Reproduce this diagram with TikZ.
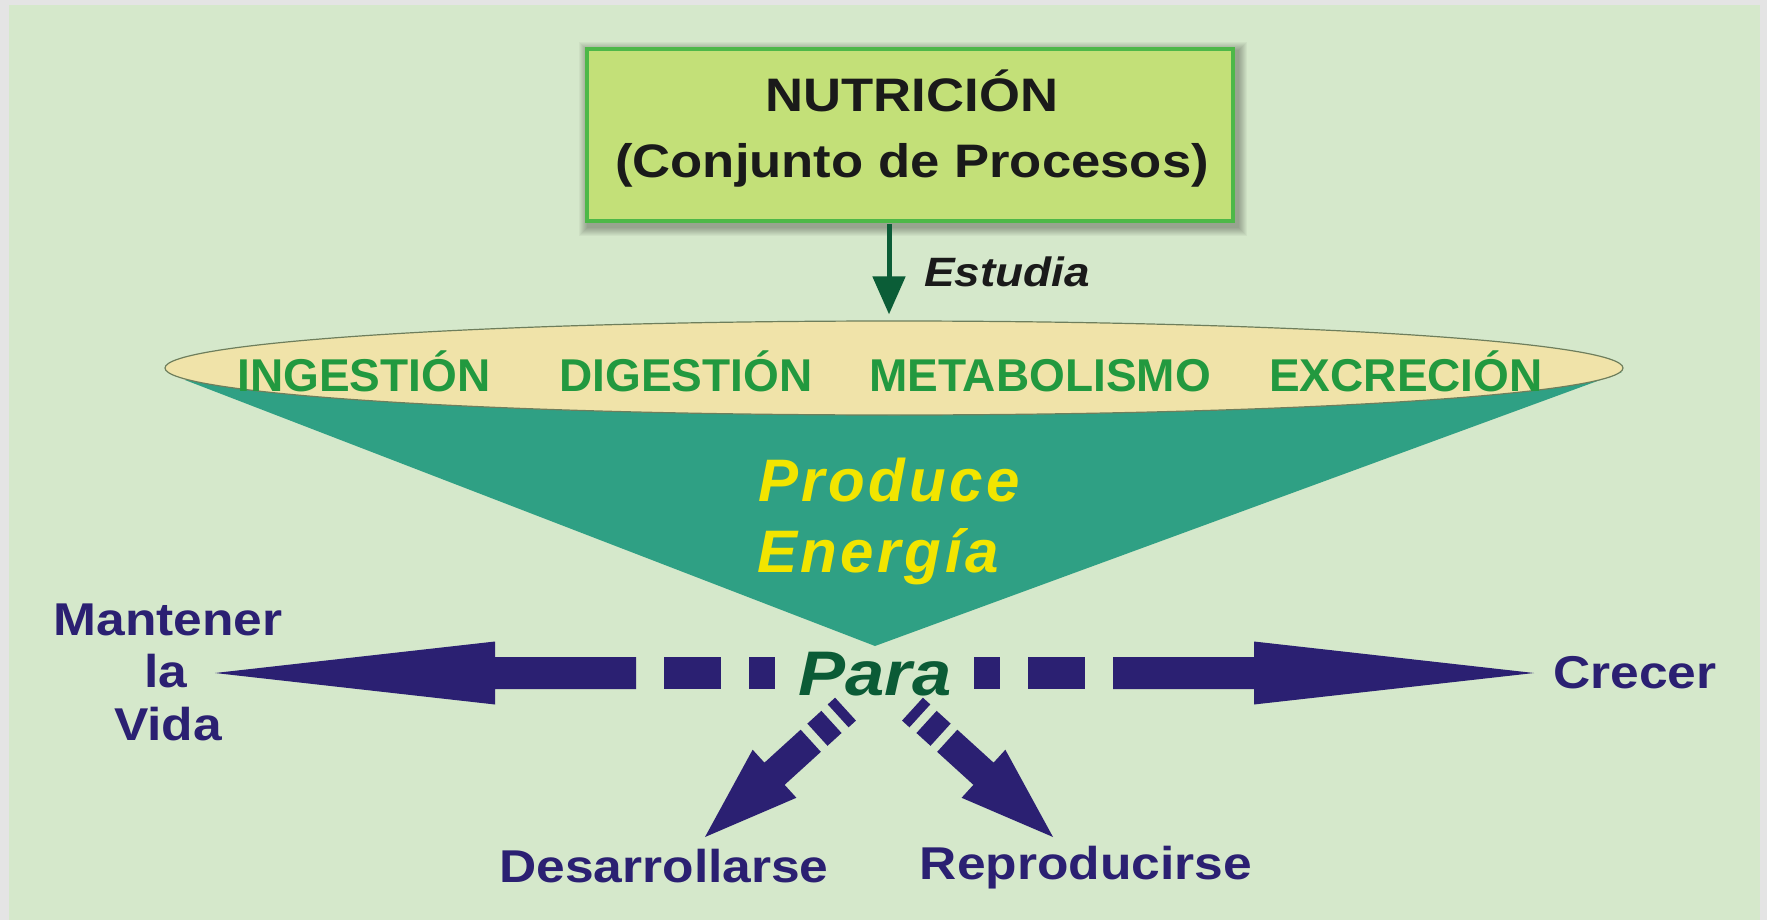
\documentclass[tikz,border=0pt]{standalone}
\usepackage{fontspec}
\setmainfont{Liberation Sans}
\newfontfamily\widefont[FakeStretch=1.12]{Liberation Sans}
\newfontfamily\spacedfont[LetterSpace=6]{Liberation Sans}
\usetikzlibrary{shapes.geometric,arrows.meta}
\definecolor{outergray}{HTML}{E4E4E4}
\definecolor{bggreen}{HTML}{D5E8CB}
\definecolor{boxfill}{HTML}{C3E078}
\definecolor{boxline}{HTML}{4DB848}
\definecolor{txtblack}{HTML}{1A1A1A}
\definecolor{darkgreen}{HTML}{0B5D37}
\definecolor{ellfill}{HTML}{F0E3A9}
\definecolor{elldraw}{HTML}{6E7E5C}
\definecolor{procgreen}{HTML}{22993F}
\definecolor{funnel}{HTML}{2FA084}
\definecolor{energy}{HTML}{F2E500}
\definecolor{navy}{HTML}{2B2072}
\definecolor{paragreen}{HTML}{0B5B36}
\newcommand\myHArrowShape{%
  \fill[navy] (0,0) -- (-280,-31.5) -- (-280,-16) -- (-421,-16) -- (-421,16)
    -- (-280,16) -- (-280,31.5) -- cycle;
  \fill[navy] (-449,-16) rectangle (-506,16);
  \fill[navy] (-534,-16) rectangle (-560,16);}
\newcommand\myDArrowShape{%
  \fill[navy] (0,0) -- (-94,-32.5) -- (-94,-15) -- (-143,-15) -- (-143,15)
    -- (-94,15) -- (-94,32.5) -- cycle;
  \fill[navy] (-152,-15) rectangle (-171,15);
  \fill[navy] (-180,-15.5) rectangle (-190,15.5);}
\tikzset{
  lbl/.style={inner sep=0pt, outer sep=0pt, anchor=base},
  boxtxt/.style={lbl, text=txtblack, font=\widefont\bfseries\fontsize{47}{50}\selectfont},
  esttxt/.style={lbl, anchor=base west, text=txtblack, font=\widefont\bfseries\itshape\fontsize{41}{44}\selectfont},
  proctxt/.style={lbl, text=procgreen, font=\bfseries\fontsize{46}{50}\selectfont},
  energytxt/.style={lbl, text=energy, font=\spacedfont\bfseries\itshape\fontsize{60}{64}\selectfont},
  paratxt/.style={lbl, text=paragreen, font=\widefont\bfseries\itshape\fontsize{63}{66}\selectfont},
  goaltxt/.style={lbl, text=navy, font=\widefont\bfseries\fontsize{46}{50}\selectfont},
  nutbox/.style={draw=boxline, line width=4pt, fill=boxfill, minimum width=646pt, minimum height=172pt, inner sep=0pt},
  procell/.style={ellipse, draw=elldraw, line width=1.2pt, fill=ellfill, minimum width=1458pt, minimum height=94pt, inner sep=0pt},
  estarrow/.style={draw=darkgreen, line width=5pt, -{Triangle[width=32pt,length=38pt]}},
}
\begin{document}
\begin{tikzpicture}[x=1pt,y=-1pt]
\useasboundingbox (0,0) rectangle (1767,920);
\fill[outergray] (0,0) rectangle (1767,920);
\fill[bggreen] (9,5) rectangle (1760,920);

% shadow of the box
\foreach \i in {1,...,9}
  \fill[black,opacity=0.035] (588-\i,51-\i) rectangle (1238+\i,227+\i);

% NUTRICION box
\node[nutbox] (nut) at (910,135) {};
\node[boxtxt] (nut1) at (912,112) {NUTRICIÓN};
\node[boxtxt] (nut2) at (912,178) {(Conjunto de Procesos)};

% funnel
\coordinate (apex) at (875,646);
\fill[funnel] (185,380) -- (1622,372) -- (apex) -- cycle;

% processes ellipse
\node[procell] (proc) at (894,368) {};
\node[proctxt] (ing) at (364,391) {INGESTIÓN};
\node[proctxt] (dig) at (686,391) {DIGESTIÓN};
\node[proctxt] (met) at (1040,391) {METABOLISMO};
\node[proctxt] (exc) at (1406,391) {EXCRECIÓN};

% Estudia arrow
\coordinate (estx) at (889,0);
\draw[estarrow, shorten <=1pt, shorten >=6pt] (nut.south -| estx) -- (proc.north -| estx);
\node[esttxt] (est) at (924,287) {Estudia};

% Produce Energia
\node[energytxt] (prod) at (889,501) {Produce};
\node[energytxt] (ener) at (878,572) {Energía};

% Para
\node[paratxt] (para) at (875,695) {Para};

% goals
\node[goaltxt] (mant) at (168,635) {Mantener};
\node[goaltxt] (la) at (166,687) {la};
\node[goaltxt] (vida) at (168,740) {Vida};
\node[goaltxt] (crec) at (1635,688) {Crecer};
\node[goaltxt] (desa) at (664,882) {Desarrollarse};
\node[goaltxt] (repr) at (1086,879) {Reproducirse};

% big arrows
\coordinate (tipL) at (215,673);
\coordinate (tipR) at (1534,673);
\coordinate (tipDL) at (705,837);
\coordinate (tipDR) at (1053,837);
\begin{scope}[shift={(tipL)}, rotate=180] \myHArrowShape \end{scope}
\begin{scope}[shift={(tipR)}] \myHArrowShape \end{scope}
\begin{scope}[shift={(tipDL)}, rotate=222.3] \myDArrowShape \end{scope}
\begin{scope}[shift={(tipDR)}, rotate=-42.3] \myDArrowShape \end{scope}
\end{tikzpicture}
\end{document}
